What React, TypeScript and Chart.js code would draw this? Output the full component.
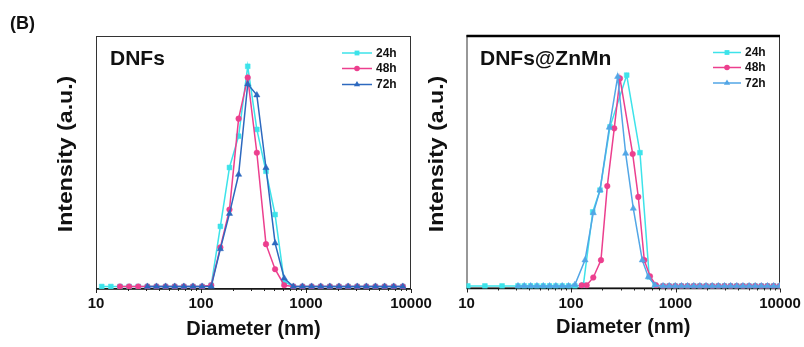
import React, { useEffect, useRef } from 'react';
import { Chart, registerables } from 'chart.js';

Chart.register(...registerables);

const FONT = '"Liberation Sans", Arial, Helvetica, sans-serif';
const SERIES_LABELS = ['24h', '48h', '72h'];
const X_TICKS = [10, 100, 1000, 10000];
const X_TITLE = 'Diameter (nm)';
const Y_TITLE = 'Intensity (a.u.)';

// ---- Left panel: DNFs ----
const L_D = [11.34, 13.85, 16.92, 20.67, 25.25, 30.84, 37.67, 46.02, 56.21, 68.66, 83.86, 102.4, 125.1, 152.9, 186.7, 228.1, 278.6, 340.3, 415.7, 507.7, 620.2, 757.6, 925.4, 1130, 1381, 1687, 2061, 2517, 3075, 3756, 4587, 5604, 6845, 8361];
const L_24 = [0, 0, 0, 0, 0, 0, 0, 0, 0, 0, 0, 0, 0.5, 24.0, 47.5, 60.0, 87.9, 62.7, 46.0, 28.7, 2.0, 0, 0, 0, 0, 0, 0, 0, 0, 0, 0, 0, 0, 0];
const L_48 = [null, null, 0, 0, 0, 0, 0, 0, 0, 0, 0, 0, 0.5, 15.6, 30.7, 67.0, 83.4, 53.4, 16.9, 6.9, 0.5, 0, 0, 0, 0, 0, 0, 0, 0, 0, 0, 0, 0, 0];
const L_72 = [null, null, null, null, null, 0, 0, 0, 0, 0, 0, 0, 0, 15.0, 29.1, 44.7, 80.8, 76.4, 47.4, 17.3, 3.3, 0, 0, 0, 0, 0, 0, 0, 0, 0, 0, 0, 0, 0];

// ---- Right panel: DNFs@ZnMn ----
const R_TAIL_D = [760, 870, 995, 1140, 1305, 1495, 1710, 1960, 2245, 2570, 2940, 3370, 3860, 4420, 5060, 5790, 6630, 7590, 8690, 9950];
const R_TAIL_V = [0, 0, 0, 0, 0, 0, 0, 0, 0, 0, 0, 0, 0, 0, 0, 0, 0, 0, 0, 0];
const R_24_D = [10.3, 15.0, 21.9, 31.1, 35.7, 41.1, 47.2, 54.3, 62.4, 71.7, 82.4, 94.7, 108.9, 131.2, 161.4, 189.5, 236.2, 341.2, 457.1, 561.0, 637];
const R_24 = [0, 0, 0, 0, 0, 0, 0, 0, 0, 0, 0, 0, 0, 0.3, 29.5, 38.2, 63.4, 84.0, 53.1, 3.6, 0.3];
const R_48_D = [126.5, 141.2, 163.4, 193.6, 222.5, 259.4, 294.2, 389.2, 440.4, 502.8, 569.7, 650];
const R_48 = [0.3, 0.3, 3.4, 10.3, 39.8, 62.8, 82.7, 52.6, 35.5, 10.3, 3.9, 0.3];
const R_72_D = [31.1, 35.7, 41.1, 47.2, 54.3, 62.4, 71.7, 82.4, 94.7, 108.9, 136.2, 163.4, 189.5, 232.7, 279.8, 333.4, 394.5, 481.0, 549.5, 637];
const R_72 = [0, 0, 0, 0, 0, 0, 0, 0, 0, 0.5, 10.3, 29.1, 38.2, 63.2, 83.4, 52.8, 30.9, 10.3, 3.6, 0.3];

type Style = 'rect' | 'circle' | 'triangle';

type Panel = {
  title: string;
  series: { d: number[]; v: (number | null)[] }[];
  colors: string[];
  styles: Style[];
  area: { left: number; top: number; right: number; bottom: number };
  titleX: number;
  xTitleY: number;
  yTitleX: number;
  yTitleY: number;
  legend: { x1: number; x2: number; tx: number; ys: number[] };
  thickTop: boolean;
  showB: boolean;
};

const RADII: Record<Style, number> = { rect: 3.4, circle: 2.8, triangle: 3.6 };

const LEFT: Panel = {
  title: 'DNFs',
  series: [
    { d: L_D, v: L_24 },
    { d: L_D, v: L_48 },
    { d: L_D, v: L_72 },
  ],
  colors: ['#3de3ea', '#ec3f8e', '#2d69bf'],
  styles: ['rect', 'circle', 'triangle'],
  area: { left: 96, top: 36, right: 411, bottom: 289 },
  titleX: 110,
  xTitleY: 329,
  yTitleX: 66,
  yTitleY: 154,
  legend: { x1: 342, x2: 372, tx: 376, ys: [53, 68.5, 84.5] },
  thickTop: false,
  showB: true,
};

const RIGHT: Panel = {
  title: 'DNFs@ZnMn',
  series: [
    { d: [...R_24_D, ...R_TAIL_D], v: [...R_24, ...R_TAIL_V] },
    { d: [...R_48_D, ...R_TAIL_D], v: [...R_48, ...R_TAIL_V] },
    { d: [...R_72_D, ...R_TAIL_D], v: [...R_72, ...R_TAIL_V] },
  ],
  colors: ['#3de3ea', '#ec3f8e', '#52a6e6'],
  styles: ['rect', 'circle', 'triangle'],
  area: { left: 466.5, top: 35, right: 780, bottom: 288.5 },
  titleX: 480,
  xTitleY: 327,
  yTitleX: 437,
  yTitleY: 154,
  legend: { x1: 713, x2: 741, tx: 745, ys: [52.5, 67.5, 83] },
  thickTop: true,
  showB: false,
};

function drawMarker(ctx: CanvasRenderingContext2D, style: Style, x: number, y: number, color: string) {
  const r = RADII[style];
  ctx.fillStyle = color;
  ctx.beginPath();
  if (style === 'rect') {
    const s = r * Math.SQRT1_2;
    ctx.rect(x - s, y - s, 2 * s, 2 * s);
  } else if (style === 'circle') {
    ctx.arc(x, y, r, 0, Math.PI * 2);
  } else {
    ctx.moveTo(x, y - r);
    ctx.lineTo(x + r * 0.866, y + r * 0.5);
    ctx.lineTo(x - r * 0.866, y + r * 0.5);
    ctx.closePath();
  }
  ctx.fill();
}

function makeChart(canvas: HTMLCanvasElement, p: Panel) {
  const W = 804;
  const H = 347;
  const decor = {
    id: 'decor',
    beforeDatasetsDraw(chart: any) {
      const ctx: CanvasRenderingContext2D = chart.ctx;
      const a = chart.chartArea;
      ctx.save();
      ctx.strokeStyle = '#333';
      ctx.lineWidth = 1;
      ctx.strokeRect(a.left + 0.5, a.top + 0.5, a.right - a.left - 1, a.bottom - a.top - 1);
      ctx.strokeStyle = '#111';
      ctx.lineWidth = 1.5;
      ctx.beginPath();
      ctx.moveTo(a.left, a.bottom);
      ctx.lineTo(a.right, a.bottom);
      ctx.stroke();
      if (p.thickTop) {
        ctx.lineWidth = 2.5;
        ctx.strokeStyle = '#000';
        ctx.beginPath();
        ctx.moveTo(a.left, a.top + 1);
        ctx.lineTo(a.right, a.top + 1);
        ctx.stroke();
      }
      ctx.restore();
    },
    afterDraw(chart: any) {
      const ctx: CanvasRenderingContext2D = chart.ctx;
      const a = chart.chartArea;
      const xs = chart.scales.x;
      ctx.save();
      // ticks
      ctx.strokeStyle = '#222';
      ctx.lineWidth = 1;
      for (let dec = 10; dec <= 10000; dec *= 10) {
        const px = Math.round(xs.getPixelForValue(dec)) + 0.5;
        ctx.beginPath();
        ctx.moveTo(px, a.bottom);
        ctx.lineTo(px, a.bottom + 4);
        ctx.stroke();
        if (dec < 10000) {
          for (let k = 2; k <= 9; k++) {
            const mx = Math.round(xs.getPixelForValue(dec * k)) + 0.5;
            ctx.beginPath();
            ctx.moveTo(mx, a.bottom);
            ctx.lineTo(mx, a.bottom + 2);
            ctx.stroke();
          }
        }
      }
      ctx.fillStyle = '#111';
      // tick labels
      ctx.font = `bold 15px ${FONT}`;
      ctx.textAlign = 'center';
      ctx.textBaseline = 'middle';
      X_TICKS.forEach((v) => {
        ctx.fillText(String(v), xs.getPixelForValue(v), a.bottom + 15);
      });
      // panel title
      ctx.font = `bold 21px ${FONT}`;
      ctx.textAlign = 'left';
      ctx.textBaseline = 'alphabetic';
      ctx.fillText(p.title, p.titleX, 65);
      if (p.showB) {
        ctx.font = `bold 18px ${FONT}`;
        ctx.fillText('(B)', 10, 29);
      }
      // x title
      ctx.font = `bold 20px ${FONT}`;
      ctx.textAlign = 'center';
      ctx.textBaseline = 'middle';
      ctx.fillText(X_TITLE, (a.left + a.right) / 2, p.xTitleY);
      // y title
      ctx.save();
      ctx.translate(p.yTitleX, p.yTitleY);
      ctx.rotate(-Math.PI / 2);
      ctx.scale(1.1, 1);
      ctx.font = `bold 21px ${FONT}`;
      ctx.fillText(Y_TITLE, 0, 0);
      ctx.restore();
      // legend
      ctx.font = `bold 12px ${FONT}`;
      ctx.textAlign = 'left';
      ctx.textBaseline = 'middle';
      SERIES_LABELS.forEach((lab, i) => {
        const y = p.legend.ys[i];
        ctx.strokeStyle = p.colors[i];
        ctx.lineWidth = 1.5;
        ctx.beginPath();
        ctx.moveTo(p.legend.x1, y);
        ctx.lineTo(p.legend.x2, y);
        ctx.stroke();
        drawMarker(ctx, p.styles[i], (p.legend.x1 + p.legend.x2) / 2, y, p.colors[i]);
        ctx.fillStyle = '#111';
        ctx.fillText(lab, p.legend.tx, y + 0.5);
      });
      ctx.restore();
    },
  };

  const datasets = p.series.map((s, i) => ({
    label: SERIES_LABELS[i],
    data: s.d
      .map((d, j) => ({ x: d, y: s.v[j] }))
      .filter((pt) => pt.y !== null && pt.y !== undefined),
    borderColor: p.colors[i],
    backgroundColor: p.colors[i],
    borderWidth: 1.5,
    pointStyle: p.styles[i],
    pointRadius: RADII[p.styles[i]],
    pointBorderWidth: 0.5,
    pointBorderColor: p.colors[i],
    pointBackgroundColor: p.colors[i],
    tension: 0,
    fill: false,
    order: 3 - i,
  }));

  return new Chart(canvas, {
    type: 'line',
    data: { datasets } as any,
    options: {
      responsive: false,
      animation: false,
      devicePixelRatio: 1,
      layout: {
        padding: { left: p.area.left, top: p.area.top, right: W - p.area.right, bottom: 0 },
      },
      plugins: {
        legend: { display: false },
        tooltip: { enabled: false },
        title: { display: false },
      },
      scales: {
        x: {
          type: 'logarithmic',
          min: 10,
          max: 10000,
          afterBuildTicks: (s: any) => {
            s.ticks = X_TICKS.map((v) => ({ value: v, major: true }));
          },
          afterFit: (s: any) => {
            s.height = H - p.area.bottom;
          },
          grid: { display: false },
          border: { display: false },
          ticks: { display: false },
        },
        y: { display: false, min: -1, max: 100 },
      },
    } as any,
    plugins: [decor],
  });
}

export default function App() {
  const leftRef = useRef<HTMLCanvasElement>(null);
  const rightRef = useRef<HTMLCanvasElement>(null);
  useEffect(() => {
    const c1 = makeChart(leftRef.current!, LEFT);
    const c2 = makeChart(rightRef.current!, RIGHT);
    return () => {
      c1.destroy();
      c2.destroy();
    };
  }, []);
  return (
    <div style={{ position: 'absolute', left: 0, top: 0, width: 804, height: 347, background: '#fff' }}>
      <canvas ref={leftRef} width={804} height={347} style={{ position: 'absolute', left: 0, top: 0 }} />
      <canvas ref={rightRef} width={804} height={347} style={{ position: 'absolute', left: 0, top: 0 }} />
    </div>
  );
}
